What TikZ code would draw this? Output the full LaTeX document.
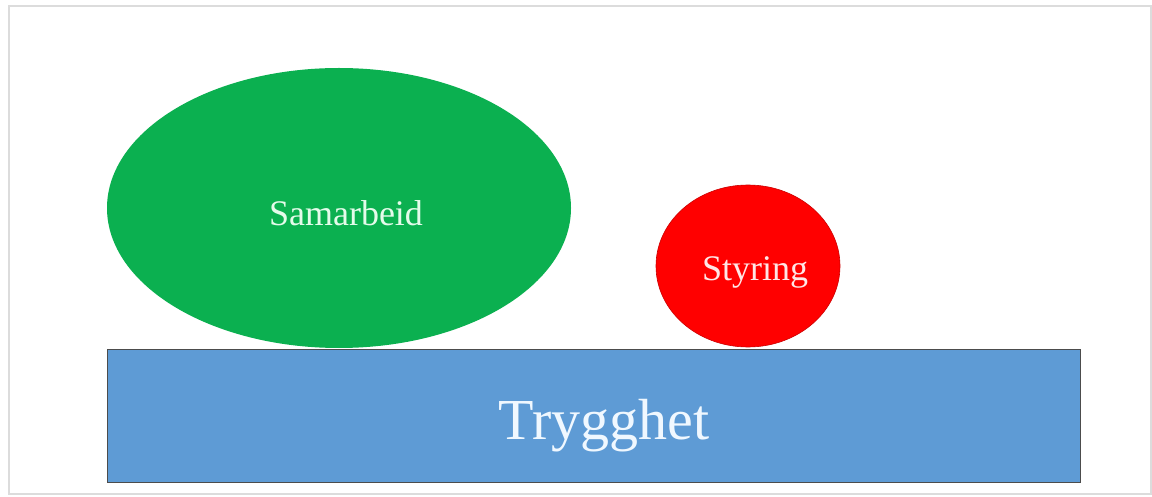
\documentclass[tikz,border=0pt]{standalone}
\usepackage{fontspec}
\setmainfont{Liberation Serif}
\usetikzlibrary{shapes.geometric}
\definecolor{offgreen}{HTML}{0BB050}
\definecolor{offred}{HTML}{FF0000}
\definecolor{offblue}{HTML}{5E9BD5}
\definecolor{framegray}{HTML}{DCDCDC}
\definecolor{greentext}{HTML}{E4FBEA}
\definecolor{redtext}{HTML}{FFE6E6}
\definecolor{bluetext}{HTML}{F0F8FF}
\begin{document}
\begin{tikzpicture}[x=1pt,y=-1pt,
  blob/.style={ellipse, inner sep=0pt, line width=0.6pt},
]
\useasboundingbox (0,0) rectangle (1152,497);
\fill[white] (0,0) rectangle (1152,497);
\draw[framegray, line width=1.5pt] (9,6) rectangle (1151,494);
% base rectangle
\node (base) [draw=black!70, line width=1pt, fill=offblue, minimum width=973pt, minimum height=133pt, inner sep=0pt, anchor=north west] at (107,349) {};
\node (tryg) at (604,426) {\fontsize{58}{60}\selectfont\color{bluetext}Trygghet};
% green ellipse
\node (samshape) [blob, fill=offgreen, minimum width=464pt, minimum height=280pt] at (339,208) {};
\node (sam) at (346,213) {\fontsize{36}{40}\selectfont\color{greentext}Samarbeid};
% red ellipse
\node (styshape) [blob, fill=offred, draw=offred!80!black, minimum width=184pt, minimum height=162pt] at (748,266) {};
\node (sty) at (755,272) {\fontsize{36}{40}\selectfont\color{redtext}Styring};
\end{tikzpicture}
\end{document}
